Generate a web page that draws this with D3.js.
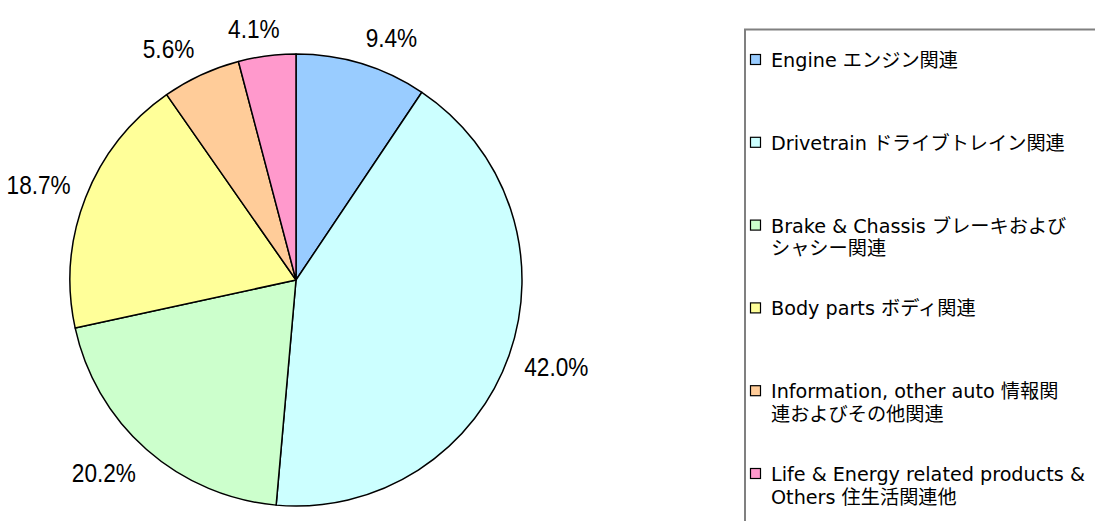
<!DOCTYPE html>
<html><head><meta charset="utf-8">
<script src="https://cdn.jsdelivr.net/npm/d3@7"></script>
<style>
html,body{margin:0;padding:0;background:#fff;}
svg{display:block;}
</style></head>
<body>
<svg id="chart" width="1095" height="521"></svg>
<script>
const categories = [
  ["Engine エンジン関連"],
  ["Drivetrain ドライブトレイン関連"],
  ["Brake & Chassis ブレーキおよび", "シャシー関連"],
  ["Body parts ボディ関連"],
  ["Information, other auto 情報関", "連およびその他関連"],
  ["Life & Energy related products &", "Others 住生活関連他"]
];
const values = [9.4, 42.0, 20.2, 18.7, 5.6, 4.1];
const colors = ["#99CCFF", "#CCFFFF", "#CCFFCC", "#FFFF99", "#FFCC99", "#FF99CC"];

const svg = d3.select("#chart");
const cx = 296, cy = 280, r = 226;
const data = values.map((v, i) => ({v, i}));
const pie = d3.pie().value(d => d.v).sort(null);
const arcs = pie(data);
const arc = d3.arc().innerRadius(0).outerRadius(r);

const g = svg.append("g").attr("transform", `translate(${cx},${cy})`);
g.selectAll("path").data(arcs).join("path")
  .attr("d", arc)
  .attr("fill", d => colors[d.data.i])
  .attr("stroke", "#000")
  .attr("stroke-width", 1.5)
  .attr("stroke-linejoin", "round");

// labels: nearest corner of label box sits on the mid-angle ray
const fs = 26, sx = 0.87;
const clamp = v => Math.max(-1, Math.min(1, v));
const lab = g.selectAll("text.lab").data(arcs).join("text")
  .attr("class", "lab")
  .attr("font-family", "'Liberation Sans',Arial,sans-serif")
  .attr("font-size", fs)
  .attr("fill", "#000")
  .attr("text-anchor", "middle")
  .attr("dominant-baseline", "central")
  .text(d => d.data.v.toFixed(1) + "%");
lab.each(function(d) {
  const w = this.getComputedTextLength() * sx;
  const h = 22;
  const a = (d.startAngle + d.endAngle) / 2;
  const s = Math.sin(a), c = -Math.cos(a);
  const D = r + 16;
  const x = s * D + clamp(s / 0.3) * w / 2;
  const y = c * D + clamp(c / 0.6) * h / 2;
  d3.select(this).attr("transform", `translate(${x},${y}) scale(${sx},1)`);
});

// legend
const lx = 745, ly = 29.5;
svg.append("path")
  .attr("d", `M${lx},${530} V${ly} H${1100}`)
  .attr("fill", "none")
  .attr("stroke", "#808080")
  .attr("stroke-width", 2);

const ys = d3.scaleLinear().domain([0, categories.length - 1]).range([67, 481]);
const items = svg.append("g").selectAll("g").data(categories).join("g")
  .attr("transform", (d, i) => `translate(0,${ys(i)})`);
items.append("rect")
  .attr("x", 750.5).attr("y", -12.5).attr("width", 10).attr("height", 10)
  .attr("fill", (d, i) => colors[i])
  .attr("stroke", "#000").attr("stroke-width", 1.2);
items.append("text")
  .attr("font-family", "'DejaVu Sans','Noto Sans CJK JP',sans-serif")
  .attr("font-size", 19.2)
  .attr("fill", "#000")
  .selectAll("tspan").data(d => d).join("tspan")
  .attr("x", 771)
  .attr("y", (d, j) => j * 22.5)
  .text(d => d);
</script>
</body></html>
